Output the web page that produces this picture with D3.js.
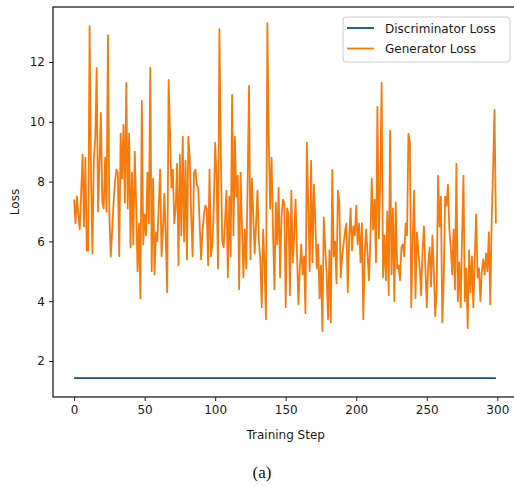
<!DOCTYPE html>
<html>
<head>
<meta charset="utf-8">
<script src="https://d3js.org/d3.v7.min.js"></script>
<style>
  body { margin: 0; background: #fff; }
  text { font-family: "DejaVu Sans", sans-serif; }
</style>
</head>
<body>
<svg id="chart"></svg>
<script>
  // generator loss per training step
  var genLoss = [
    7.4, 6.6, 7.5, 6.9, 6.4, 7.6, 8.9, 6.5, 8.8, 5.7, 5.7, 13.2, 8.2, 5.6, 8.8, 9.4, 11.8, 7.0, 8.6, 10.3,
    7.3, 7.1, 8.8, 7.0, 12.9, 6.9, 5.5, 6.4, 7.3, 8.0, 8.4, 8.3, 5.5, 9.6, 8.1, 9.9, 7.3, 11.3, 7.1, 9.6,
    5.8, 8.3, 5.9, 9.0, 7.2, 5.0, 6.6, 4.1, 10.7, 5.9, 6.9, 6.2, 8.3, 6.6, 11.8, 5.0, 8.1, 4.9, 6.3, 6.0,
    7.2, 8.4, 5.5, 6.4, 7.6, 6.1, 4.3, 11.4, 9.6, 7.8, 8.4, 6.6, 7.1, 8.6, 5.2, 8.9, 6.2, 9.5, 6.0, 8.7,
    5.4, 9.5, 8.8, 6.9, 5.5, 8.3, 8.4, 7.9, 7.8, 6.6, 5.4, 6.3, 6.9, 7.2, 7.1, 5.2, 8.4, 5.5, 5.9, 7.1,
    9.3, 8.2, 5.1, 13.1, 9.0, 6.0, 5.8, 6.7, 7.7, 4.8, 7.5, 5.5, 10.9, 6.2, 9.5, 7.5, 8.2, 4.4, 8.3, 6.5,
    4.8, 6.4, 5.1, 7.9, 11.2, 5.4, 8.1, 6.9, 5.6, 6.6, 7.7, 6.0, 5.4, 3.8, 6.4, 5.2, 3.4, 13.3, 9.4, 7.1,
    8.8, 6.3, 4.4, 7.3, 5.9, 7.8, 4.8, 6.8, 7.4, 7.3, 3.8, 7.1, 6.9, 4.2, 7.7, 5.3, 6.2, 7.4, 5.6, 3.9,
    5.1, 5.9, 4.9, 5.5, 3.6, 9.3, 7.2, 5.0, 8.7, 5.3, 7.9, 6.7, 5.1, 5.9, 4.1, 5.2, 3.0, 6.8, 5.8, 4.9,
    3.4, 5.7, 3.3, 8.4, 5.5, 6.0, 4.6, 7.7, 7.3, 4.8, 5.5, 5.9, 6.3, 6.6, 4.3, 6.1, 7.1, 5.7, 6.5, 6.2,
    7.2, 5.9, 6.6, 5.3, 6.6, 3.4, 5.5, 6.4, 5.6, 4.7, 6.0, 8.1, 6.4, 7.4, 5.3, 10.5, 6.1, 8.0, 11.3, 4.8,
    6.2, 4.7, 7.0, 4.2, 9.7, 4.9, 7.1, 4.0, 7.3, 5.1, 5.2, 4.7, 5.8, 5.9, 5.5, 6.6, 6.2, 9.6, 9.3, 3.8,
    6.0, 7.7, 4.1, 6.3, 5.7, 5.1, 4.2, 5.7, 6.5, 5.1, 3.8, 5.2, 5.8, 4.5, 6.2, 5.0, 3.5, 4.4, 8.2, 6.5,
    7.5, 3.3, 4.7, 7.5, 7.2, 7.9, 6.4, 5.8, 4.9, 6.4, 4.4, 8.6, 4.0, 5.3, 3.8, 6.1, 8.2, 4.0, 5.1, 3.1,
    5.7, 4.3, 5.5, 3.8, 5.4, 6.9, 4.8, 5.1, 4.0, 5.0, 5.4, 4.9, 5.6, 5.0, 6.3, 3.9, 6.7, 8.4, 10.4, 6.6
  ];

  // discriminator loss per training step (flat in the picture)
  var discLoss = [
    1.43, 1.43, 1.43, 1.43, 1.43, 1.43, 1.43, 1.43, 1.43, 1.43, 1.43, 1.43, 1.43, 1.43, 1.43, 1.43, 1.43, 1.43, 1.43, 1.43,
    1.43, 1.43, 1.43, 1.43, 1.43, 1.43, 1.43, 1.43, 1.43, 1.43, 1.43, 1.43, 1.43, 1.43, 1.43, 1.43, 1.43, 1.43, 1.43, 1.43,
    1.43, 1.43, 1.43, 1.43, 1.43, 1.43, 1.43, 1.43, 1.43, 1.43, 1.43, 1.43, 1.43, 1.43, 1.43, 1.43, 1.43, 1.43, 1.43, 1.43,
    1.43, 1.43, 1.43, 1.43, 1.43, 1.43, 1.43, 1.43, 1.43, 1.43, 1.43, 1.43, 1.43, 1.43, 1.43, 1.43, 1.43, 1.43, 1.43, 1.43,
    1.43, 1.43, 1.43, 1.43, 1.43, 1.43, 1.43, 1.43, 1.43, 1.43, 1.43, 1.43, 1.43, 1.43, 1.43, 1.43, 1.43, 1.43, 1.43, 1.43,
    1.43, 1.43, 1.43, 1.43, 1.43, 1.43, 1.43, 1.43, 1.43, 1.43, 1.43, 1.43, 1.43, 1.43, 1.43, 1.43, 1.43, 1.43, 1.43, 1.43,
    1.43, 1.43, 1.43, 1.43, 1.43, 1.43, 1.43, 1.43, 1.43, 1.43, 1.43, 1.43, 1.43, 1.43, 1.43, 1.43, 1.43, 1.43, 1.43, 1.43,
    1.43, 1.43, 1.43, 1.43, 1.43, 1.43, 1.43, 1.43, 1.43, 1.43, 1.43, 1.43, 1.43, 1.43, 1.43, 1.43, 1.43, 1.43, 1.43, 1.43,
    1.43, 1.43, 1.43, 1.43, 1.43, 1.43, 1.43, 1.43, 1.43, 1.43, 1.43, 1.43, 1.43, 1.43, 1.43, 1.43, 1.43, 1.43, 1.43, 1.43,
    1.43, 1.43, 1.43, 1.43, 1.43, 1.43, 1.43, 1.43, 1.43, 1.43, 1.43, 1.43, 1.43, 1.43, 1.43, 1.43, 1.43, 1.43, 1.43, 1.43,
    1.43, 1.43, 1.43, 1.43, 1.43, 1.43, 1.43, 1.43, 1.43, 1.43, 1.43, 1.43, 1.43, 1.43, 1.43, 1.43, 1.43, 1.43, 1.43, 1.43,
    1.43, 1.43, 1.43, 1.43, 1.43, 1.43, 1.43, 1.43, 1.43, 1.43, 1.43, 1.43, 1.43, 1.43, 1.43, 1.43, 1.43, 1.43, 1.43, 1.43,
    1.43, 1.43, 1.43, 1.43, 1.43, 1.43, 1.43, 1.43, 1.43, 1.43, 1.43, 1.43, 1.43, 1.43, 1.43, 1.43, 1.43, 1.43, 1.43, 1.43,
    1.43, 1.43, 1.43, 1.43, 1.43, 1.43, 1.43, 1.43, 1.43, 1.43, 1.43, 1.43, 1.43, 1.43, 1.43, 1.43, 1.43, 1.43, 1.43, 1.43,
    1.43, 1.43, 1.43, 1.43, 1.43, 1.43, 1.43, 1.43, 1.43, 1.43, 1.43, 1.43, 1.43, 1.43, 1.43, 1.43, 1.43, 1.43, 1.43, 1.43
  ];

  var xTicks = [0, 50, 100, 150, 200, 250, 300];
  var yTicks = [2, 4, 6, 8, 10, 12];
  var seriesNames = ["Discriminator Loss", "Generator Loss"];
  var seriesColors = ["#164a8a", "#f77a0c"];

  var W = 514, H = 486;
  // plot frame (right side runs past the picture edge, as in the reference)
  var frame = {left: 53, top: 7, right: 517, bottom: 397};

  var svg = d3.select("#chart")
    .attr("width", W)
    .attr("height", H);

  var x = d3.scaleLinear()
    .domain([-14.95, 313.95])
    .range([frame.left, frame.right]);
  var y = d3.scaleLinear()
    .domain([0.796, 13.84])
    .range([frame.bottom, frame.top]);

  // axes
  var xAxis = svg.append("g")
    .attr("transform", "translate(0," + frame.bottom + ")")
    .call(d3.axisBottom(x).tickValues(xTicks).tickSize(4).tickPadding(4).tickSizeOuter(0));
  var yAxis = svg.append("g")
    .attr("transform", "translate(" + frame.left + ",0)")
    .call(d3.axisLeft(y).tickValues(yTicks).tickSize(4).tickPadding(4).tickSizeOuter(0));

  [xAxis, yAxis].forEach(function (g) {
    g.select(".domain").remove();
    g.selectAll("text").style("font-size", "12px").style("fill", "#1a1a1a");
    g.selectAll("line").attr("stroke", "#222");
  });

  // frame
  svg.append("rect")
    .attr("x", frame.left)
    .attr("y", frame.top)
    .attr("width", frame.right - frame.left)
    .attr("height", frame.bottom - frame.top)
    .attr("fill", "none")
    .attr("stroke", "#222")
    .attr("stroke-width", 1.3);

  var line = d3.line()
    .x(function (d, i) { return x(i); })
    .y(function (d) { return y(d); });

  svg.append("path")
    .datum(discLoss)
    .attr("d", line)
    .attr("fill", "none")
    .attr("stroke", seriesColors[0])
    .attr("stroke-width", 1.8);

  svg.append("path")
    .datum(genLoss)
    .attr("d", line)
    .attr("fill", "none")
    .attr("stroke", seriesColors[1])
    .attr("stroke-width", 1.8)
    .attr("stroke-linejoin", "round");

  // axis labels
  svg.append("text")
    .text("Training Step")
    .attr("x", (x(0) + x(300)) / 2)
    .attr("y", 439)
    .style("text-anchor", "middle")
    .style("font-size", "12px")
    .style("fill", "#1a1a1a");

  svg.append("text")
    .text("Loss")
    .attr("transform", "translate(19," + ((frame.top + frame.bottom) / 2) + ") rotate(-90)")
    .style("text-anchor", "middle")
    .style("font-size", "12px")
    .style("fill", "#1a1a1a");

  // caption
  svg.append("text")
    .text("(a)")
    .attr("x", 262)
    .attr("y", 478)
    .style("text-anchor", "middle")
    .style("font-family", "'Liberation Serif', 'DejaVu Serif', serif")
    .style("font-size", "17px")
    .style("fill", "#111");

  // legend
  var legend = svg.append("g");
  legend.append("rect")
    .attr("x", 343)
    .attr("y", 17)
    .attr("width", 167)
    .attr("height", 45)
    .attr("rx", 3)
    .attr("fill", "#fff")
    .attr("fill-opacity", 0.9)
    .attr("stroke", "#ccc");

  seriesNames.forEach(function (name, i) {
    var ly = 28 + i * 20.5;
    legend.append("line")
      .attr("x1", 347).attr("x2", 374)
      .attr("y1", ly).attr("y2", ly)
      .attr("stroke", seriesColors[i])
      .attr("stroke-width", 1.8);
    legend.append("text")
      .text(name)
      .attr("x", 385)
      .attr("y", ly + 4.5)
      .style("font-size", "12px")
      .style("fill", "#1a1a1a");
  });
</script>
</body>
</html>
